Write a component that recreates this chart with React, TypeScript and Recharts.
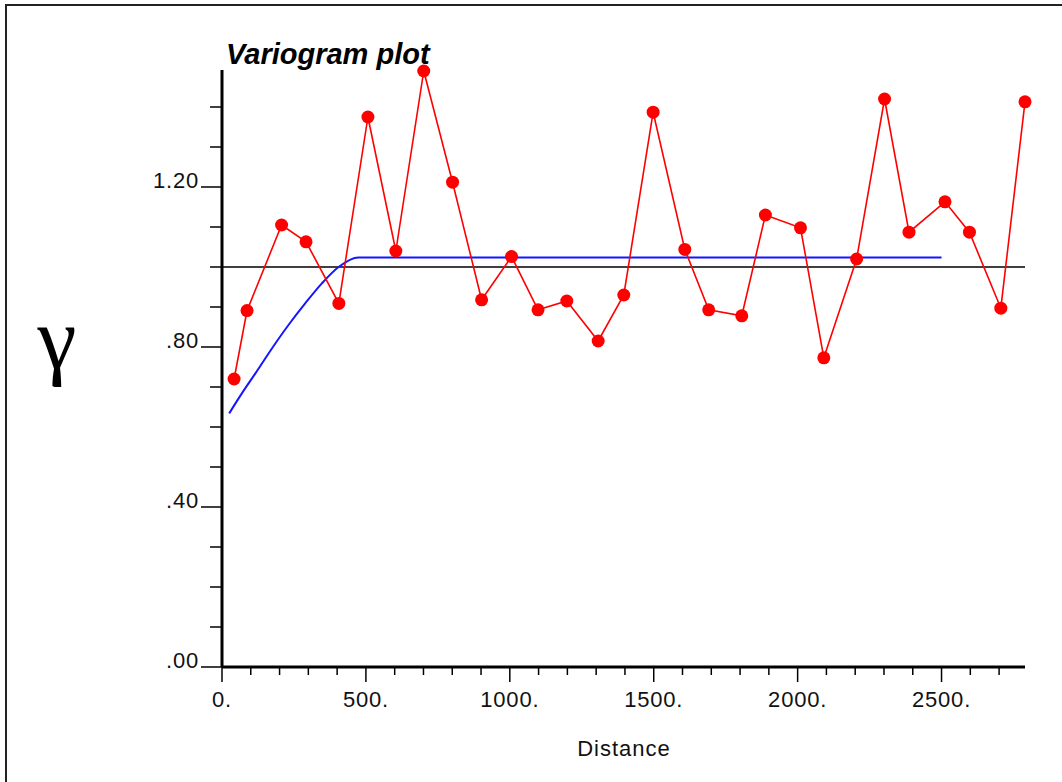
import React from 'react';
import { LineChart, Line, XAxis, YAxis, ReferenceLine } from 'recharts';

// experimental variogram (red) - lag distance / gamma
const lagDist = [42, 87, 207, 292, 406, 507, 604, 701, 801, 902, 1006, 1098, 1198, 1307, 1396, 1498, 1608, 1691, 1806, 1888, 2010, 2091, 2205, 2302, 2387, 2512, 2597, 2706, 2790];
const gammaExp = [0.72, 0.891, 1.105, 1.063, 0.909, 1.375, 1.04, 1.49, 1.212, 0.918, 1.026, 0.893, 0.915, 0.815, 0.93, 1.387, 1.044, 0.893, 0.878, 1.13, 1.098, 0.773, 1.02, 1.42, 1.087, 1.163, 1.087, 0.897, 1.413];

// fitted model curve (blue)
const modelDist = [25, 69, 116, 174, 231, 289, 347, 405, 474, 2500];
const modelGamma = [0.634, 0.684, 0.734, 0.797, 0.855, 0.909, 0.959, 1.0, 1.024, 1.024];

const sill = 1.0;

const xTicks = [0, 100, 200, 300, 400, 500, 600, 700, 800, 900, 1000, 1100, 1200, 1300, 1400, 1500, 1600, 1700, 1800, 1900, 2000, 2100, 2200, 2300, 2400, 2500, 2600, 2700];
const xTickLabels = ['0.', '', '', '', '', '500.', '', '', '', '', '1000.', '', '', '', '', '1500.', '', '', '', '', '2000.', '', '', '', '', '2500.', '', ''];
const yTicks = [0, 0.1, 0.2, 0.3, 0.4, 0.5, 0.6, 0.7, 0.8, 0.9, 1.0, 1.1, 1.2, 1.3, 1.4];
const yTickLabels = ['.00', '', '', '', '.40', '', '', '', '.80', '', '', '', '1.20', '', ''];

const expData = lagDist.map((h, i) => ({ h, g: gammaExp[i] }));
const modelData = modelDist.map((h, i) => ({ h, g: modelGamma[i] }));

const labelFont = { fontFamily: '"Liberation Sans", Arial, sans-serif', fontSize: 22, letterSpacing: 0.8, fill: '#111' };

const XTick = (props: any) => {
    const { x, y, payload } = props;
    const label = xTickLabels[xTicks.indexOf(payload.value)] || '';
    const major = label !== '';
    return (
        <g>
            <line x1={x} x2={x} y1={y} y2={y + (major ? 15 : 8)} stroke="#000" strokeWidth={1.5} />
            {major && <text x={x} y={y + 40} textAnchor="middle" {...labelFont}>{label}</text>}
        </g>
    );
};

const YTick = (props: any) => {
    const { x, y, payload } = props;
    const label = yTickLabels[yTicks.indexOf(payload.value)] || '';
    const major = label !== '';
    return (
        <g>
            <line x1={x} x2={x - (major ? 21 : 12)} y1={y} y2={y} stroke="#000" strokeWidth={1.5} />
            {major && <text x={x - 23} y={y + 1} textAnchor="end" {...labelFont}>{label}</text>}
        </g>
    );
};

const App = () => {
    return (
        <div style={{ position: 'absolute', left: 0, top: 0, width: 1062, height: 782, overflow: 'hidden', background: '#fff' }}>
            {/* frame */}
            <div style={{ position: 'absolute', left: 5, top: 4, width: 1100, height: 900, borderLeft: '2px solid #222', borderTop: '2px solid #222' }} />
            <LineChart width={1062} height={782} margin={{ top: 70, right: 37, bottom: 75, left: 162 }}>
                <XAxis
                    type="number"
                    dataKey="h"
                    domain={[0, 2790]}
                    ticks={xTicks}
                    interval={0}
                    height={40}
                    tickSize={0}
                    tickMargin={0}
                    tickLine={false}
                    axisLine={{ stroke: '#000', strokeWidth: 3 }}
                    tick={<XTick />}
                />
                <YAxis
                    type="number"
                    domain={[0, 1.4925]}
                    ticks={yTicks}
                    interval={0}
                    width={60}
                    tickSize={0}
                    tickMargin={0}
                    tickLine={false}
                    axisLine={{ stroke: '#000', strokeWidth: 3 }}
                    tick={<YTick />}
                />
                <ReferenceLine y={sill} stroke="#000" strokeWidth={1.5} />
                <Line data={modelData} dataKey="g" type="monotone" stroke="#1515ff" strokeWidth={2} dot={false} isAnimationActive={false} />
                <Line data={expData} dataKey="g" type="linear" stroke="#ff0000" strokeWidth={1.6}
                    dot={{ r: 6.5, fill: '#ff0000', stroke: 'none' }} isAnimationActive={false} />
            </LineChart>
            <svg width={1062} height={782} style={{ position: 'absolute', left: 0, top: 0, pointerEvents: 'none' }}>
                <text x={226} y={64} fontFamily='"Liberation Sans", Arial, sans-serif' fontSize={29} fontWeight="bold" fontStyle="italic" fill="#000">Variogram plot</text>
                <text x={624} y={756} textAnchor="middle" fontFamily='"Liberation Sans", Arial, sans-serif' fontSize={22} letterSpacing={1} fill="#111">Distance</text>
                <text x={57} y={368} textAnchor="middle" fontFamily='"Liberation Serif", "Times New Roman", serif' fontSize={88} fill="#000">γ</text>
            </svg>
        </div>
    );
};

export default App;
